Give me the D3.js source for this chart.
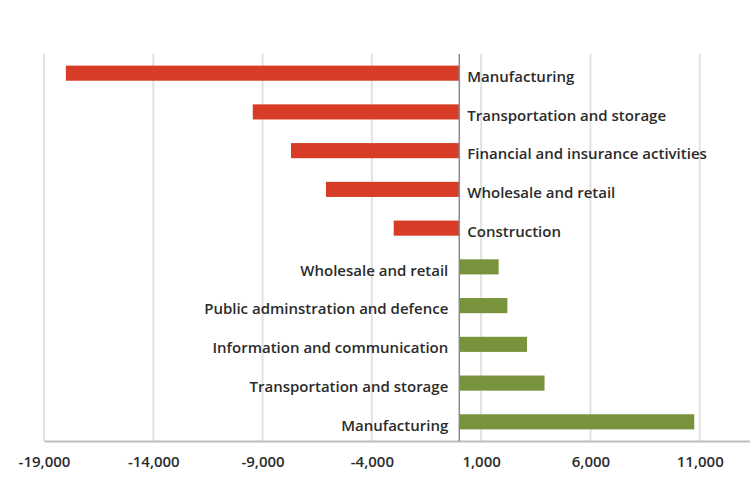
<!DOCTYPE html>
<html>
<head>
<meta charset="utf-8">
<script src="https://cdn.jsdelivr.net/npm/d3@7"></script>
<style>
  body { margin: 0; background: #fff; }
  text { font-family: "Open Sans", Lato, sans-serif; fill: #2b2b2b; }
</style>
</head>
<body>
<svg id="chart" width="750" height="477"></svg>
<script>
  const categories = [
    'Manufacturing',
    'Transportation and storage',
    'Financial and insurance activities',
    'Wholesale and retail',
    'Construction',
    'Wholesale and retail',
    'Public adminstration and defence',
    'Information and communication',
    'Transportation and storage',
    'Manufacturing'
  ];
  const values = [-18000, -9450, -7700, -6100, -3000, 1800, 2200, 3100, 3900, 10750];
  const tickValues = [-19000, -14000, -9000, -4000, 1000, 6000, 11000];

  const padding = { top: 54, right: 0, bottom: 36, left: 44 };
  const svg = d3.select('#chart');
  const width = parseInt(svg.attr('width'));
  const height = parseInt(svg.attr('height'));

  const dataset = categories.map((c, i) => ({ id: i, name: c, value: values[i] }));

  let xScale = d3.scaleLinear()
    .domain([-19000, 13300])
    .range([padding.left, width - padding.right]);

  let yScale = d3.scaleBand()
    .domain(dataset.map(d => d.id))
    .range([padding.top, height - padding.bottom])
    .paddingInner(0.61)
    .paddingOuter(0.3);

  // grid
  svg.append('g')
    .selectAll('line')
    .data(tickValues)
    .enter()
    .append('line')
    .attr('x1', d => xScale(d))
    .attr('x2', d => xScale(d))
    .attr('y1', padding.top)
    .attr('y2', height - padding.bottom)
    .attr('stroke', '#e2e2e2')
    .attr('stroke-width', 2);

  // x axis
  let xAxis = svg.append('g')
    .attr('transform', `translate(0, ${height - padding.bottom})`)
    .call(d3.axisBottom(xScale)
      .tickValues(tickValues)
      .tickSize(0)
      .tickPadding(15)
      .tickFormat(d => d3.format(',')(d).replace('\u2212', '-')));
  xAxis.select('.domain')
    .attr('stroke', '#bdbdbd')
    .attr('stroke-width', 2);
  xAxis.selectAll('text')
    .attr('font-size', '15px')
    .attr('font-weight', 600)
    .style('font-family', '"Open Sans", sans-serif')
    .attr('fill', '#2b2b2b');

  // bars
  svg.append('g')
    .selectAll('rect')
    .data(dataset)
    .enter()
    .append('rect')
    .attr('x', d => xScale(Math.min(0, d.value)))
    .attr('y', d => yScale(d.id))
    .attr('width', d => Math.abs(xScale(d.value) - xScale(0)))
    .attr('height', yScale.bandwidth())
    .attr('fill', d => d.value < 0 ? '#d63c26' : '#77933c');

  // zero line
  svg.append('line')
    .attr('x1', xScale(0))
    .attr('x2', xScale(0))
    .attr('y1', padding.top)
    .attr('y2', height - padding.bottom)
    .attr('stroke', '#8a8a8a')
    .attr('stroke-width', 1.5);

  // category labels
  svg.append('g')
    .selectAll('text')
    .data(dataset)
    .enter()
    .append('text')
    .attr('x', d => d.value < 0 ? xScale(0) + 8 : xScale(0) - 11)
    .attr('y', d => yScale(d.id) + yScale.bandwidth() / 2 + 3.5)
    .attr('dy', '0.35em')
    .attr('text-anchor', d => d.value < 0 ? 'start' : 'end')
    .attr('font-size', '15px')
    .attr('font-weight', 600)
    .text(d => d.name);
</script>
</body>
</html>
